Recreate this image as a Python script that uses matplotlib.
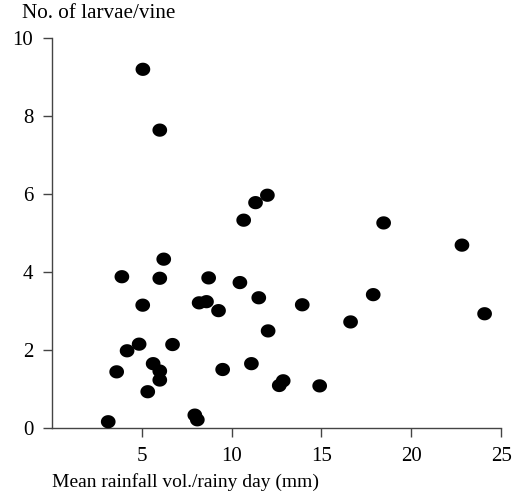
import matplotlib
matplotlib.use("Agg")
import matplotlib.pyplot as plt
import numpy as np
from matplotlib.path import Path

rainfall = [5.06, 6.0, 11.99, 11.33, 10.67, 18.46, 22.82, 24.08, 17.88, 16.62,
            13.93, 11.51, 12.03, 11.1, 12.87, 12.65, 14.9, 3.89, 6.22, 6.0,
            8.72, 10.46, 5.05, 8.19, 8.6, 9.27, 4.85, 6.71, 4.18, 3.6,
            5.63, 6.0, 6.0, 5.33, 9.5, 3.13, 7.95, 8.09]
larvae = [9.2, 7.64, 5.97, 5.78, 5.33, 5.26, 4.69, 2.93, 3.42, 2.72,
          3.16, 3.34, 2.49, 1.65, 1.21, 1.09, 1.08, 3.88, 4.33, 3.84,
          3.85, 3.73, 3.15, 3.21, 3.24, 3.01, 2.15, 2.14, 1.98, 1.44,
          1.65, 1.46, 1.23, 0.93, 1.5, 0.16, 0.33, 0.21]
x_ticks = [5, 10, 15, 20, 25]
y_ticks = [0, 2, 4, 6, 8, 10]

plt.rcParams['font.family'] = ['Liberation Serif', 'DejaVu Serif']

# slightly wide elliptical dot marker
t = np.linspace(0, 2 * np.pi, 64)
ell = Path(np.column_stack([np.cos(t), 0.9 * np.sin(t)]), closed=True)

fig = plt.figure(figsize=(5.22, 4.95), dpi=100)
ax = fig.add_axes([0.0996, 0.1354, 0.8604, 0.7876])
ax.scatter(rainfall, larvae, s=112, marker=ell, color='black', edgecolors='none',
           clip_on=False, zorder=3)
ax.set_xlim(0, 25)
ax.set_ylim(0, 10)
ax.set_xticks(x_ticks)
ax.set_yticks(y_ticks)
for s in ['top', 'right']:
    ax.spines[s].set_visible(False)
for s in ['left', 'bottom']:
    ax.spines[s].set_color('#444444')
    ax.spines[s].set_linewidth(1.0)
ax.tick_params(direction='out', length=6.5, width=1.0, color='#444444', labelsize=15, pad=7)
fig.text(21.5 / 522, 1 - 13 / 495, 'No. of larvae/vine', fontsize=15.2, ha='left', va='center')
fig.text(51.5 / 522, 1 - 482 / 495, 'Mean rainfall vol./rainy day (mm)', fontsize=14, ha='left', va='center')
fig.savefig('out.png', dpi=100)
